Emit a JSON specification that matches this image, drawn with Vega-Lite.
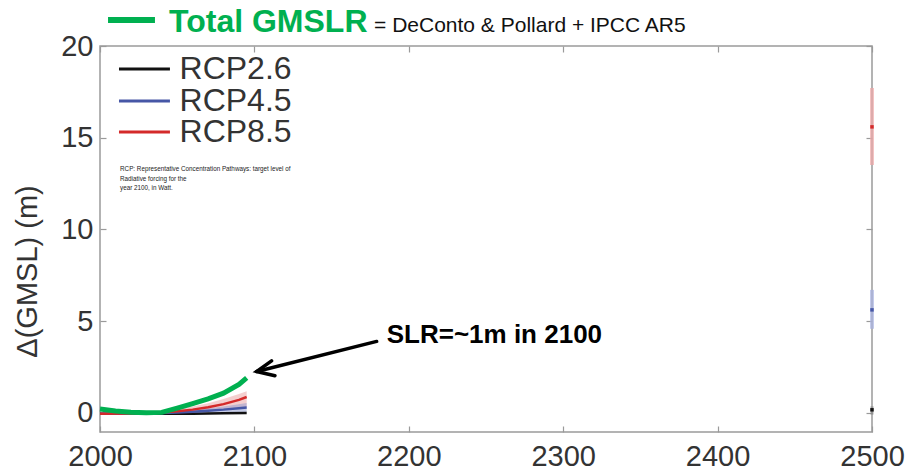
{
  "$schema": "https://vega.github.io/schema/vega-lite/v6.json",
  "width": 772,
  "height": 386,
  "autosize": {"type": "none"},
  "padding": {"left": 100, "top": 46, "right": 33, "bottom": 40},
  "background": "white",
  "config": {
    "view": {"stroke": "#9a9a9a", "strokeWidth": 1.5},
    "font": "Liberation Sans",
    "axis": {"grid": false, "domain": false}
  },
  "datasets": {
    "bands": [
      {"year": 2000, "scenario": "RCP2.6", "lo": -0.06, "mid": -0.06, "hi": -0.06},
      {"year": 2020, "scenario": "RCP2.6", "lo": -0.06, "mid": -0.06, "hi": -0.06},
      {"year": 2040, "scenario": "RCP2.6", "lo": -0.06, "mid": -0.06, "hi": -0.06},
      {"year": 2060, "scenario": "RCP2.6", "lo": -0.05, "mid": -0.05, "hi": -0.05},
      {"year": 2080, "scenario": "RCP2.6", "lo": -0.03, "mid": -0.03, "hi": -0.03},
      {"year": 2095, "scenario": "RCP2.6", "lo": -0.01, "mid": -0.01, "hi": -0.01},
      {"year": 2000, "scenario": "RCP4.5", "lo": -0.06, "mid": -0.06, "hi": -0.06},
      {"year": 2020, "scenario": "RCP4.5", "lo": -0.06, "mid": -0.05, "hi": -0.04},
      {"year": 2040, "scenario": "RCP4.5", "lo": -0.05, "mid": -0.02, "hi": 0.03},
      {"year": 2050, "scenario": "RCP4.5", "lo": -0.04, "mid": 0.02, "hi": 0.08},
      {"year": 2060, "scenario": "RCP4.5", "lo": -0.03, "mid": 0.06, "hi": 0.15},
      {"year": 2070, "scenario": "RCP4.5", "lo": -0.02, "mid": 0.11, "hi": 0.24},
      {"year": 2080, "scenario": "RCP4.5", "lo": 0.0, "mid": 0.17, "hi": 0.34},
      {"year": 2090, "scenario": "RCP4.5", "lo": 0.02, "mid": 0.25, "hi": 0.46},
      {"year": 2095, "scenario": "RCP4.5", "lo": 0.03, "mid": 0.29, "hi": 0.53},
      {"year": 2000, "scenario": "RCP8.5", "lo": -0.06, "mid": -0.06, "hi": -0.06},
      {"year": 2020, "scenario": "RCP8.5", "lo": -0.06, "mid": -0.04, "hi": -0.02},
      {"year": 2040, "scenario": "RCP8.5", "lo": -0.04, "mid": 0.02, "hi": 0.1},
      {"year": 2050, "scenario": "RCP8.5", "lo": -0.02, "mid": 0.08, "hi": 0.2},
      {"year": 2060, "scenario": "RCP8.5", "lo": 0.02, "mid": 0.17, "hi": 0.34},
      {"year": 2070, "scenario": "RCP8.5", "lo": 0.07, "mid": 0.3, "hi": 0.52},
      {"year": 2080, "scenario": "RCP8.5", "lo": 0.14, "mid": 0.47, "hi": 0.75},
      {"year": 2090, "scenario": "RCP8.5", "lo": 0.24, "mid": 0.7, "hi": 1.02},
      {"year": 2095, "scenario": "RCP8.5", "lo": 0.3, "mid": 0.86, "hi": 1.17}
    ],
    "total": [
      {"year": 2000, "value": 0.2},
      {"year": 2010, "value": 0.1},
      {"year": 2020, "value": 0.03},
      {"year": 2030, "value": 0.0},
      {"year": 2040, "value": 0.02},
      {"year": 2050, "value": 0.25},
      {"year": 2060, "value": 0.5},
      {"year": 2070, "value": 0.76},
      {"year": 2080, "value": 1.07},
      {"year": 2090, "value": 1.55},
      {"year": 2095, "value": 1.9}
    ],
    "ranges2500": [
      {"year": 2500, "scenario": "RCP2.6", "lo": -0.1, "mid": 0.16, "hi": 0.35},
      {"year": 2500, "scenario": "RCP4.5", "lo": 4.58, "mid": 5.61, "hi": 6.7},
      {"year": 2500, "scenario": "RCP8.5", "lo": 13.51, "mid": 15.59, "hi": 17.71}
    ],
    "legend": [
      {"scenario": "RCP2.6", "x1": 2012.3, "x2": 2045.3, "xt": 2051.5, "y": 18.75},
      {"scenario": "RCP4.5", "x1": 2012.3, "x2": 2045.3, "xt": 2051.5, "y": 17.0},
      {"scenario": "RCP8.5", "x1": 2012.3, "x2": 2045.3, "xt": 2051.5, "y": 15.31}
    ],
    "arrow": [
      {"seg": "shaft", "order": 1, "year": 2179.2, "value": 3.89},
      {"seg": "shaft", "order": 2, "year": 2101.5, "value": 2.25},
      {"seg": "head", "order": 1, "year": 2111.1, "value": 2.83},
      {"seg": "head", "order": 2, "year": 2101.5, "value": 2.25},
      {"seg": "head", "order": 3, "year": 2113.3, "value": 2.02}
    ]
  },
  "layer": [
    {
      "data": {"name": "bands"},
      "transform": [{"filter": "datum.scenario === 'RCP8.5'"}],
      "mark": {"type": "area", "color": "#eaa0a0", "opacity": 0.5},
      "encoding": {
        "x": {"field": "year", "type": "quantitative", "scale": {"domain": [2000, 2500], "nice": false, "zero": false},
          "axis": {"orient": "bottom", "values": [2000, 2100, 2200, 2300, 2400, 2500], "format": "d", "title": null,
            "labelFontSize": 29, "labelColor": "#333333", "tickSize": -6, "tickColor": "#9a9a9a", "tickWidth": 1.2,
            "labelPadding": 16, "labelFlush": false}},
        "y": {"field": "lo", "type": "quantitative", "scale": {"domain": [-1.05, 20], "nice": false, "zero": false},
          "axis": {"orient": "left", "values": [0, 5, 10, 15, 20], "title": "Δ(GMSL) (m)",
            "labelFontSize": 29, "labelColor": "#333333", "tickSize": -6, "tickColor": "#9a9a9a", "tickWidth": 1.2,
            "labelPadding": 13, "titleFontSize": 29, "titleFontWeight": "normal", "titleColor": "#333333",
            "titleX": -73, "titleY": 225, "titleAlign": "center", "titleBaseline": "middle", "titleAngle": -90}},
        "y2": {"field": "hi"}
      }
    },
    {
      "data": {"name": "bands"},
      "transform": [{"filter": "datum.scenario === 'RCP4.5'"}],
      "mark": {"type": "area", "color": "#8e9ad0", "opacity": 0.5},
      "encoding": {
        "x": {"field": "year", "type": "quantitative", "axis": null},
        "y": {"field": "lo", "type": "quantitative", "axis": null},
        "y2": {"field": "hi"}
      }
    },
    {
      "data": {"name": "bands"},
      "mark": {"type": "line", "strokeWidth": 2.5},
      "encoding": {
        "x": {"field": "year", "type": "quantitative",
          "axis": {"orient": "top", "values": [2000, 2100, 2200, 2300, 2400, 2500], "labels": false, "title": null,
            "tickSize": -6, "tickColor": "#9a9a9a", "tickWidth": 1.2}},
        "y": {"field": "mid", "type": "quantitative",
          "axis": {"orient": "right", "values": [0, 5, 10, 15, 20], "labels": false, "title": null,
            "tickSize": -6, "tickColor": "#9a9a9a", "tickWidth": 1.2}},
        "color": {"field": "scenario", "type": "nominal",
          "scale": {"domain": ["RCP2.6", "RCP4.5", "RCP8.5"], "range": ["#111111", "#4657a6", "#d42a2a"]},
          "legend": null}
      }
    },
    {
      "data": {"name": "legend"},
      "mark": {"type": "rule", "strokeWidth": 3},
      "encoding": {
        "x": {"field": "x1", "type": "quantitative", "axis": null},
        "x2": {"field": "x2"},
        "y": {"field": "y", "type": "quantitative", "axis": null},
        "color": {"field": "scenario", "type": "nominal", "legend": null}
      }
    },
    {
      "data": {"name": "legend"},
      "mark": {"type": "text", "align": "left", "baseline": "middle", "fontSize": 32, "color": "#333333", "font": "Liberation Sans"},
      "encoding": {
        "x": {"field": "xt", "type": "quantitative", "axis": null},
        "y": {"field": "y", "type": "quantitative", "axis": null},
        "text": {"field": "scenario"}
      }
    },
    {
      "data": {"name": "total"},
      "mark": {"type": "line", "color": "#00b050", "strokeWidth": 5},
      "encoding": {
        "x": {"field": "year", "type": "quantitative", "axis": null},
        "y": {"field": "value", "type": "quantitative", "axis": null}
      }
    },
    {
      "data": {"name": "ranges2500"},
      "transform": [{"filter": "datum.scenario === 'RCP8.5'"}],
      "mark": {"type": "rule", "color": "#f0a8a8", "strokeWidth": 4, "opacity": 0.7},
      "encoding": {
        "x": {"field": "year", "type": "quantitative", "axis": null},
        "y": {"field": "lo", "type": "quantitative", "axis": null},
        "y2": {"field": "hi"}
      }
    },
    {
      "data": {"name": "ranges2500"},
      "transform": [{"filter": "datum.scenario === 'RCP4.5'"}],
      "mark": {"type": "rule", "color": "#aab3e2", "strokeWidth": 4, "opacity": 0.7},
      "encoding": {
        "x": {"field": "year", "type": "quantitative", "axis": null},
        "y": {"field": "lo", "type": "quantitative", "axis": null},
        "y2": {"field": "hi"}
      }
    },
    {
      "data": {"name": "ranges2500"},
      "transform": [{"filter": "datum.scenario === 'RCP2.6'"}],
      "mark": {"type": "rule", "color": "#888888", "strokeWidth": 3, "opacity": 0.7},
      "encoding": {
        "x": {"field": "year", "type": "quantitative", "axis": null},
        "y": {"field": "lo", "type": "quantitative", "axis": null},
        "y2": {"field": "hi"}
      }
    },
    {
      "data": {"name": "ranges2500"},
      "mark": {"type": "point", "shape": "square", "filled": true, "size": 12, "opacity": 1},
      "encoding": {
        "x": {"field": "year", "type": "quantitative", "axis": null},
        "y": {"field": "mid", "type": "quantitative", "axis": null},
        "color": {"field": "scenario", "type": "nominal", "legend": null}
      }
    },
    {
      "data": {"name": "arrow"},
      "mark": {"type": "line", "color": "#000000", "strokeWidth": 3.5, "strokeCap": "round", "strokeJoin": "miter"},
      "encoding": {
        "x": {"field": "year", "type": "quantitative", "axis": null},
        "y": {"field": "value", "type": "quantitative", "axis": null},
        "detail": {"field": "seg"},
        "order": {"field": "order", "type": "quantitative"}
      }
    },
    {
      "data": {"values": [{"year": 2185.7, "value": 4.25, "label": "SLR=~1m in 2100"}]},
      "mark": {"type": "text", "align": "left", "baseline": "middle", "fontSize": 26, "fontWeight": "bold", "color": "#000000", "font": "Liberation Sans"},
      "encoding": {
        "x": {"field": "year", "type": "quantitative", "axis": null},
        "y": {"field": "value", "type": "quantitative", "axis": null},
        "text": {"field": "label"}
      }
    },
    {
      "data": {"values": [
        {"year": 2013, "value": 13.3, "label": "RCP: Representative Concentration Pathways: target level of"},
        {"year": 2013, "value": 12.75, "label": "Radiative forcing for the"},
        {"year": 2013, "value": 12.26, "label": "year 2100, in Watt."}
      ]},
      "mark": {"type": "text", "align": "left", "baseline": "middle", "fontSize": 6.3, "color": "#222222", "font": "Liberation Sans"},
      "encoding": {
        "x": {"field": "year", "type": "quantitative", "axis": null},
        "y": {"field": "value", "type": "quantitative", "axis": null},
        "text": {"field": "label"}
      }
    },
    {
      "data": {"values": [{"year": 2005.2, "year2": 2035.6, "value": 21.42}]},
      "mark": {"type": "rule", "color": "#00b050", "strokeWidth": 6, "clip": false},
      "encoding": {
        "x": {"field": "year", "type": "quantitative", "axis": null},
        "x2": {"field": "year2"},
        "y": {"field": "value", "type": "quantitative", "axis": null}
      }
    },
    {
      "data": {"values": [{"year": 2044.7, "value": 20.76, "label": "Total GMSLR"}]},
      "mark": {"type": "text", "align": "left", "baseline": "alphabetic", "fontSize": 32, "fontWeight": "bold", "color": "#00b050", "font": "Liberation Sans"},
      "encoding": {
        "x": {"field": "year", "type": "quantitative", "axis": null},
        "y": {"field": "value", "type": "quantitative", "axis": null},
        "text": {"field": "label"}
      }
    },
    {
      "data": {"values": [{"year": 2177.5, "value": 20.76, "label": "= DeConto & Pollard + IPCC AR5"}]},
      "mark": {"type": "text", "align": "left", "baseline": "alphabetic", "fontSize": 21, "color": "#111111", "font": "Liberation Sans"},
      "encoding": {
        "x": {"field": "year", "type": "quantitative", "axis": null},
        "y": {"field": "value", "type": "quantitative", "axis": null},
        "text": {"field": "label"}
      }
    }
  ]
}
